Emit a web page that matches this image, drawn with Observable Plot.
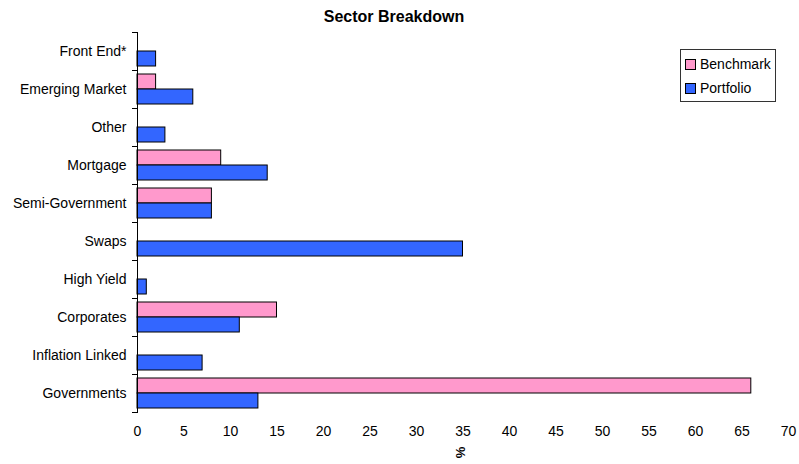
<!DOCTYPE html>
<html>
<head>
<meta charset="utf-8">
<script src="https://cdn.jsdelivr.net/npm/d3@7"></script>
<script src="https://cdn.jsdelivr.net/npm/@observablehq/plot@0.6"></script>
<style>
  html, body { margin: 0; padding: 0; background: #fff; }
  #wrap { position: relative; width: 799px; height: 464px; font-family: "Liberation Sans", Arial, sans-serif; }
  #title { position: absolute; left: 0; width: 788px; top: 8px; text-align: center; font-weight: bold; font-size: 16px; color: #000; }
  #xlabel { position: absolute; left: 452px; top: 445px; width: 16px; text-align: center; font-weight: bold; font-size: 13px; transform: rotate(-90deg); color: #000; }
  #legend { position: absolute; left: 680px; top: 49px; width: 94px; height: 51px; border: 1px solid #333; box-sizing: content-box; }
  .item { position: absolute; left: 4px; height: 16px; display: flex; align-items: center; font-size: 14px; color: #000; }
  .sw { width: 9px; height: 9px; border: 1px solid #000; margin-right: 4px; }
</style>
</head>
<body>
<div id="wrap">
  <div id="chart"></div>
  <div id="title">Sector Breakdown</div>
  <div id="xlabel">%</div>
  <div id="legend"></div>
</div>
<script>
const sectors = ["Front End*", "Emerging Market", "Other", "Mortgage", "Semi-Government", "Swaps", "High Yield", "Corporates", "Inflation Linked", "Governments"];
const benchmark = [0, 2, 0, 9, 8, 0, 0, 15, 0, 66];
const portfolio = [2, 6, 3, 14, 8, 35, 1, 11, 7, 13];
const seriesNames = ["Benchmark", "Portfolio"];
const seriesColors = ["#FF99CC", "#3366FF"];
const xTicks = [0, 5, 10, 15, 20, 25, 30, 35, 40, 45, 50, 55, 60, 65, 70];

const data = [];
sectors.forEach((s, i) => {
  if (benchmark[i] > 0) data.push({sector: s, series: "Benchmark", value: benchmark[i]});
  if (portfolio[i] > 0) data.push({sector: s, series: "Portfolio", value: portfolio[i]});
});

const chart = Plot.plot({
  width: 799,
  height: 464,
  marginLeft: 137,
  marginRight: 11,
  marginTop: 32,
  marginBottom: 52,
  style: {fontFamily: "Liberation Sans, Arial, sans-serif", fontSize: "14px", color: "#000", background: "#fff"},
  x: {domain: [0, 70], label: null},
  y: {domain: seriesNames, paddingInner: 0, paddingOuter: 0.226, axis: null},
  fy: {domain: sectors, padding: 0, label: null},
  color: {domain: seriesNames, range: seriesColors},
  marks: [
    Plot.axisX({ticks: xTicks, tickSize: 0, tickPadding: 14, label: null, facetAnchor: "bottom"}),
    Plot.axisFy({anchor: "left", tickSize: 0, tickPadding: 11, label: null}),
    Plot.axisFy({anchor: "left", tickSize: 5, text: null, label: null, dy: -19}),
    Plot.axisFy({anchor: "left", ticks: ["Governments"], tickSize: 5, text: null, label: null, dy: 19}),
    Plot.barX(data, {x: "value", y: "series", fy: "sector", fill: "series", stroke: "#000", strokeWidth: 1}),
    Plot.frame({anchor: "left", stroke: "#000"})
  ]
});
document.getElementById("chart").appendChild(chart);

const legend = document.getElementById("legend");
seriesNames.forEach((name, i) => {
  const item = document.createElement("div");
  item.className = "item";
  item.style.top = (6 + i * 24) + "px";
  const sw = document.createElement("div");
  sw.className = "sw";
  sw.style.background = seriesColors[i];
  const label = document.createElement("span");
  label.textContent = name;
  item.appendChild(sw);
  item.appendChild(label);
  legend.appendChild(item);
});
</script>
</body>
</html>
